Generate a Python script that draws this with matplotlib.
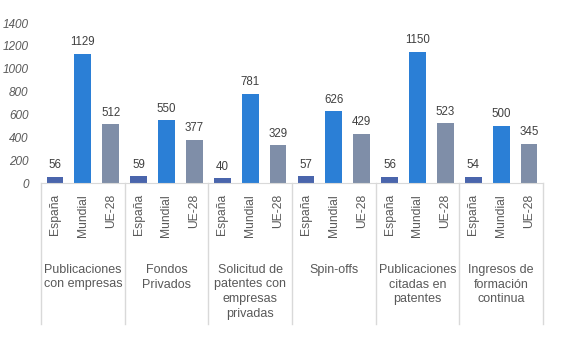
import numpy as np
import matplotlib.pyplot as plt
from matplotlib import transforms

plt.rcParams['font.family'] = ['Liberation Sans', 'DejaVu Sans']

# Indicadores de transferencia: España frente a Mundial y UE-28
categorias = ["Publicaciones\ncon empresas", "Fondos\nPrivados",
              "Solicitud de\npatentes con\nempresas\nprivadas", "Spin-offs",
              "Publicaciones\ncitadas en\npatentes", "Ingresos de\nformación\ncontinua"]
series = ["España", "Mundial", "UE-28"]
espana = [56, 59, 40, 57, 56, 54]
mundial = [1129, 550, 781, 626, 1150, 500]
ue28 = [512, 377, 329, 429, 523, 345]
colores = ["#4A65AC", "#2B7FD6", "#7F8EA8"]

valores = [espana, mundial, ue28]
n = len(categorias)

fig = plt.figure(figsize=(5.62, 3.49), dpi=100)
ax = fig.add_axes([41 / 562, (349 - 183) / 349, (543 - 41) / 562, 160 / 349])

for j, datos in enumerate(valores):
    x = np.arange(n) * 3 + j + 0.5
    ax.bar(x, datos, width=0.6, color=colores[j])
    for xi, v in zip(x, datos):
        ax.annotate(str(v), (xi, v), xytext=(0, 4), textcoords="offset points",
                    ha="center", va="bottom", fontsize=8.3, color="#404040")

ax.set_xlim(0, 3 * n)
ax.set_ylim(0, 1400)
ax.set_yticks(range(0, 1401, 200))
ax.set_xticks([])
for lbl in ax.get_yticklabels():
    lbl.set_fontstyle("italic")
ax.tick_params(axis="y", length=0, pad=9, labelsize=8.5, labelcolor="#595959")
for s in ["top", "right", "left"]:
    ax.spines[s].set_visible(False)
ax.spines["bottom"].set_color("#D9D9D9")

trans = transforms.blended_transform_factory(ax.transData, ax.transAxes)

# separadores verticales entre grupos
for k in range(n + 1):
    ax.plot([3 * k, 3 * k], [0, -0.88], color="#D9D9D9", lw=1,
            transform=trans, clip_on=False)

# etiquetas de serie giradas y nombre de cada grupo
for i in range(n):
    for j, nombre in enumerate(series):
        ax.text(3 * i + j + 0.5, -0.07, nombre, rotation=90, ha="center",
                va="top", fontsize=8.7, color="#595959", transform=trans)
    ax.text(3 * i + 1.5, -0.505, categorias[i], ha="center", va="top",
            fontsize=9, color="#595959", linespacing=1.3, transform=trans)

fig.savefig("out.png", dpi=100)
